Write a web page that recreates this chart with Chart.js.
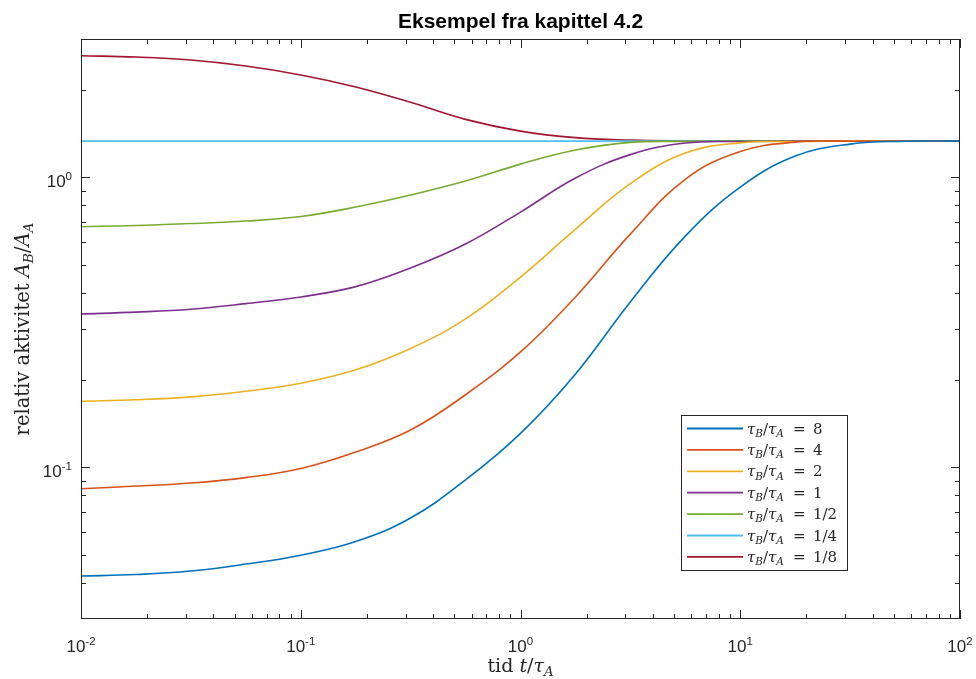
<!DOCTYPE html>
<html>
<head>
<meta charset="utf-8">
<title>Eksempel fra kapittel 4.2</title>
<script src="https://cdn.jsdelivr.net/npm/chart.js@4.4.1/dist/chart.umd.min.js"></script>
<style>
  html, body { margin: 0; padding: 0; background: #fff; }
  #wrap { position: relative; width: 976px; height: 679px; }
</style>
</head>
<body>
<div id="wrap"><canvas id="chart"></canvas></div>
<script>
'use strict';

// tid t/tau_A, kvart-dekade avstand
const tid = [0.01, 0.0178, 0.0316, 0.0562, 0.1, 0.178, 0.316, 0.562, 1, 1.78, 3.16, 5.62, 10, 17.8, 31.6, 56.2, 100];

// relativ aktivitet A_B/A_A lest av figuren
const rel8 = [0.0422, 0.0427, 0.0439, 0.0464, 0.0498, 0.0555, 0.0669, 0.0905, 0.131, 0.210, 0.372, 0.627, 0.926, 1.184, 1.302, 1.332, 1.333];
const rel4 = [0.0844, 0.0862, 0.0883, 0.0922, 0.0991, 0.113, 0.1345, 0.178, 0.250, 0.387, 0.637, 0.985, 1.228, 1.323, 1.332, 1.333, 1.333];
const rel2 = [0.169, 0.171, 0.175, 0.183, 0.195, 0.217, 0.257, 0.325, 0.453, 0.663, 0.952, 1.213, 1.315, 1.330, 1.333, 1.333, 1.333];
const rel1 = [0.338, 0.343, 0.351, 0.367, 0.387, 0.420, 0.487, 0.589, 0.759, 0.995, 1.198, 1.313, 1.330, 1.333, 1.333, 1.333, 1.333];
const relHalv = [0.676, 0.682, 0.693, 0.707, 0.733, 0.790, 0.869, 0.971, 1.111, 1.242, 1.320, 1.331, 1.333, 1.333, 1.333, 1.333, 1.333];
const relKvart = [1.333, 1.333, 1.333, 1.333, 1.333, 1.333, 1.333, 1.333, 1.333, 1.333, 1.333, 1.333, 1.333, 1.333, 1.333, 1.333, 1.333];
const relAattendel = [2.626, 2.599, 2.538, 2.420, 2.255, 2.050, 1.815, 1.585, 1.444, 1.371, 1.345, 1.336, 1.333, 1.333, 1.333, 1.333, 1.333];

const serier = [rel8, rel4, rel2, rel1, relHalv, relKvart, relAattendel];
const forhold = ['8', '4', '2', '1', '1/2', '1/4', '1/8'];
const farger = ['#0072BD', '#D95319', '#EDB120', '#7E2F8E', '#77AC30', '#4DBEEE', '#A2142F'];

// akser
const xMin = 0.01, xMax = 100;
const yMin = 0.03, yMax = 3;
const xMajor = [0.01, 0.1, 1, 10, 100];
const xMajorExp = ['-2', '-1', '0', '1', '2'];
const yMajor = [0.1, 1];
const yMajorExp = ['-1', '0'];

const AXIS_COLOR = '#262626';
const SANS = '"Liberation Sans", Arial, Helvetica, sans-serif';
const SERIF = '"DejaVu Serif", "Liberation Serif", serif';

function minorTicks(min, max) {
    const out = [];
    for (let d = 1e-4; d < max * 10; d *= 10) {
        for (let m = 2; m <= 9; m++) {
            const v = +(m * d).toPrecision(6);
            if (v > min * 1.0001 && v < max * 0.9999) out.push(v);
        }
    }
    return out;
}

// tekst med kursiv og senket skrift: [tekst, 'r' | 'i' | 's']
function richWidth(ctx, segs, size) {
    let w = 0;
    for (const [t, k] of segs) {
        const fs = k === 's' ? size * 0.7 : size;
        ctx.font = (k === 'r' ? '' : 'italic ') + fs + 'px ' + SERIF;
        w += ctx.measureText(t).width;
    }
    return w;
}

function drawRich(ctx, segs, x, y, size) {
    let cx = x;
    for (const [t, k] of segs) {
        const sub = k === 's';
        const fs = sub ? size * 0.7 : size;
        ctx.font = (k === 'r' ? '' : 'italic ') + fs + 'px ' + SERIF;
        ctx.fillText(t, cx, y + (sub ? size * 0.22 : 0));
        cx += ctx.measureText(t).width;
    }
    return cx;
}

function powerLabelWidth(ctx, exp) {
    ctx.font = '17px ' + SANS;
    const wb = ctx.measureText('10').width;
    ctx.font = '11.5px ' + SANS;
    return [wb, ctx.measureText(exp).width];
}

function drawPower(ctx, exp, x, y) {
    const [wb] = powerLabelWidth(ctx, exp);
    ctx.font = '17px ' + SANS;
    ctx.fillText('10', x, y);
    ctx.font = '11.5px ' + SANS;
    ctx.fillText(exp, x + wb, y - 7.5);
}

const matlabAxes = {
    id: 'matlabAxes',
    afterDatasetsDraw(chart) {
        const ctx = chart.ctx;
        const a = chart.chartArea;
        const xs = chart.scales.x, ys = chart.scales.y;
        ctx.save();
        ctx.strokeStyle = AXIS_COLOR;
        ctx.fillStyle = AXIS_COLOR;
        ctx.lineWidth = 1;
        ctx.textBaseline = 'alphabetic';

        // ramme
        ctx.strokeRect(a.left + 0.5, a.top + 0.5, a.right - a.left - 1, a.bottom - a.top - 1);

        // tick-merker innover, alle fire sider
        ctx.beginPath();
        const xTicks = xMajor.map(v => [v, 9]).concat(minorTicks(xMin, xMax).map(v => [v, 5]));
        for (const [v, len] of xTicks) {
            const px = Math.round(xs.getPixelForValue(v)) + 0.5;
            ctx.moveTo(px, a.bottom); ctx.lineTo(px, a.bottom - len);
            ctx.moveTo(px, a.top); ctx.lineTo(px, a.top + len);
        }
        const yTicks = yMajor.map(v => [v, 9]).concat(minorTicks(yMin, yMax).map(v => [v, 5]));
        for (const [v, len] of yTicks) {
            const py = Math.round(ys.getPixelForValue(v)) + 0.5;
            ctx.moveTo(a.left, py); ctx.lineTo(a.left + len, py);
            ctx.moveTo(a.right, py); ctx.lineTo(a.right - len, py);
        }
        ctx.stroke();

        // tick-etiketter
        xMajor.forEach((v, i) => {
            const [wb, we] = powerLabelWidth(ctx, xMajorExp[i]);
            const px = xs.getPixelForValue(v);
            drawPower(ctx, xMajorExp[i], px - (wb + we) / 2, a.bottom + 33);
        });
        yMajor.forEach((v, i) => {
            const [wb, we] = powerLabelWidth(ctx, yMajorExp[i]);
            const py = ys.getPixelForValue(v);
            drawPower(ctx, yMajorExp[i], a.left - 9 - (wb + we), py + 10);
        });

        // tittel
        ctx.fillStyle = '#000';
        ctx.font = 'bold 21px ' + SANS;
        ctx.textAlign = 'center';
        ctx.fillText('Eksempel fra kapittel 4.2', (a.left + a.right) / 2, 28);
        ctx.textAlign = 'left';

        // aksetitler
        ctx.fillStyle = AXIS_COLOR;
        const xLab = [['tid ', 'r'], ['t', 'i'], ['/', 'r'], ['τ', 'i'], ['A', 's']];
        const wx = richWidth(ctx, xLab, 19);
        drawRich(ctx, xLab, (a.left + a.right) / 2 - wx / 2, 672, 19);

        const yLab = [['relativ aktivitet ', 'r'], ['A', 'i'], ['B', 's'], ['/', 'r'], ['A', 'i'], ['A', 's']];
        const wy = richWidth(ctx, yLab, 19.5);
        ctx.save();
        ctx.translate(29, (a.top + a.bottom) / 2);
        ctx.rotate(-Math.PI / 2);
        drawRich(ctx, yLab, -wy / 2, 0, 19.5);
        ctx.restore();

        // forklaring
        const lx = 681, ly = 415, lw = 166, lh = 155;
        ctx.fillStyle = '#fff';
        ctx.fillRect(lx, ly, lw, lh);
        ctx.strokeStyle = AXIS_COLOR;
        ctx.lineWidth = 1;
        ctx.strokeRect(lx + 0.5, ly + 0.5, lw, lh);
        chart.data.datasets.forEach((ds, i) => {
            const yy = ly + 13.5 + i * 21.4;
            ctx.strokeStyle = ds.borderColor;
            ctx.lineWidth = 1.8;
            ctx.beginPath();
            ctx.moveTo(687, yy); ctx.lineTo(743, yy);
            ctx.stroke();
            ctx.fillStyle = AXIS_COLOR;
            drawRich(ctx, [['τ', 'i'], ['B', 's'], ['/', 'r'], ['τ', 'i'], ['A', 's']], 747, yy + 5, 15);
            ctx.font = '15px ' + SERIF;
            ctx.fillText('=', 793, yy + 5);
            ctx.fillText(forhold[i], 813, yy + 5);
        });
        ctx.restore();
    }
};

new Chart(document.getElementById('chart'), {
    type: 'line',
    data: {
        datasets: serier.map((s, i) => ({
            label: 'τB/τA = ' + forhold[i],
            data: tid.map((t, j) => ({ x: t, y: s[j] })),
            borderColor: farger[i],
            borderWidth: 1.6,
            pointRadius: 0,
            fill: false,
            tension: 0.4
        }))
    },
    options: {
        responsive: true,
        maintainAspectRatio: false,
        animation: false,
        layout: { padding: { left: 81, top: 39, right: 16, bottom: 60 } },
        plugins: { legend: { display: false }, title: { display: false }, tooltip: { enabled: false } },
        scales: {
            x: { type: 'logarithmic', min: xMin, max: xMax, display: false },
            y: { type: 'logarithmic', min: yMin, max: yMax, display: false }
        }
    },
    plugins: [matlabAxes]
});
</script>
</body>
</html>
